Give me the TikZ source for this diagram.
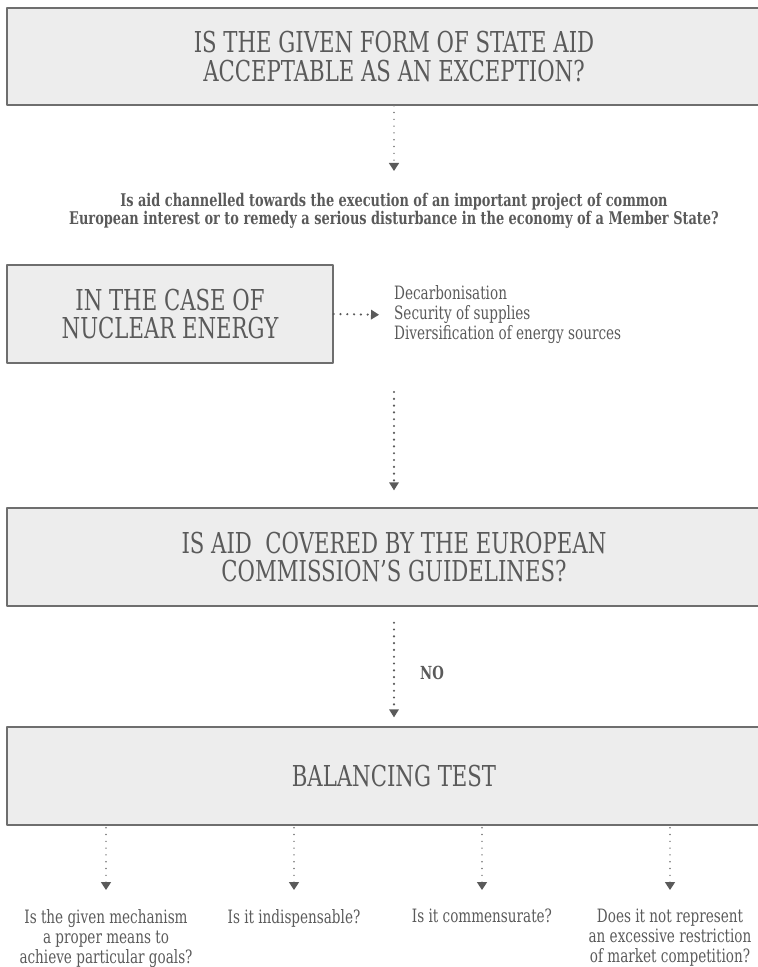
\documentclass[tikz,border=0pt]{standalone}
\usepackage{fontspec}
\usetikzlibrary{arrows.meta}
\newfontfamily\slab[FakeStretch=0.82]{DejaVu Serif Condensed}
\definecolor{boxfill}{HTML}{EDEDED}
\definecolor{boxline}{HTML}{6E6E6E}
\definecolor{ink}{HTML}{5A5A5A}
\definecolor{dotgray}{HTML}{747474}

\begin{document}
\begin{tikzpicture}[x=1pt, y=-1pt, line cap=round, line join=round,
	box/.style={draw=boxline, line width=1.4pt, fill=boxfill, inner sep=0pt,
		align=center, text=ink, font=\slab\fontsize{28.8}{28.5}\selectfont},
	note/.style={text=ink, inner sep=0pt, align=center,
		font=\slab\fontsize{18.4}{20}\selectfont},
	thinflow/.style={dotgray, line width=1.6pt, dash pattern=on 0pt off 6.8pt,
		-{Triangle[width=10pt,length=8pt,color=ink,fill=ink]}},
	boldflow/.style={ink, line width=2.4pt, dash pattern=on 0pt off 6.8pt,
		-{Triangle[width=10pt,length=8pt,line width=0pt]}}]
	\clip (0,0) rectangle (758,967);

	% Upper part
	\node[box, minimum width=774pt, minimum height=97pt] (accept) at (394,56.5)
		{IS THE GIVEN FORM OF STATE AID\\ACCEPTABLE AS AN EXCEPTION?};
	\node[note, font=\slab\bfseries\fontsize{17.5}{18.5}\selectfont] (interest) at (394,211)
		{Is aid channelled towards the execution of an important project of common\\
		European interest or to remedy a serious disturbance in the economy of a Member State?};
	\draw[thinflow, shorten >=22pt] (accept.south) -- (interest.north);

	% Nuclear energy
	\node[box, minimum width=326pt, minimum height=98pt] (nuclear) at (170,314)
		{IN THE CASE OF\\NUCLEAR ENERGY};
	\node[note, anchor=west, align=left] (goals) at (394,315)
		{Decarbonisation\\Security of supplies\\Diversification of energy sources};
	\draw[boldflow, shorten >=15pt] (nuclear.east) -- (goals.west);

	% Guidelines
	\coordinate (split) at (394,392);
	\node[box, minimum width=774pt, minimum height=98pt] (guide) at (394,557)
		{IS AID\ \ COVERED BY THE EUROPEAN\\COMMISSION’S GUIDELINES?};
	\draw[boldflow, shorten >=17pt] (split) -- (guide.north);

	% Balancing test
	\node[box, minimum width=774pt, minimum height=98pt] (balance) at (394,776)
		{BALANCING TEST};
	\draw[boldflow, shorten <=16pt, shorten >=9pt] (guide.south) -- (balance.north);
	\node[note, anchor=west, font=\slab\bfseries\fontsize{18}{19.5}\selectfont] (no) at (420,673) {NO};

	% Four questions
	\foreach \i/\cx/\lab in {1/106/{Is the given mechanism\\a proper means to\\achieve particular goals?},
		2/294/{Is it indispensable?}, 3/482/{Is it commensurate?},
		4/670/{Does it not represent\\an excessive restriction\\of market competition?}} {
		\node[note, anchor=north] (test\i) at (\cx,909) {\lab};
		\draw[thinflow, shorten <=2pt, shorten >=19pt] (balance.south -| test\i.north) -- (test\i.north);
	}
\end{tikzpicture}
\end{document}
